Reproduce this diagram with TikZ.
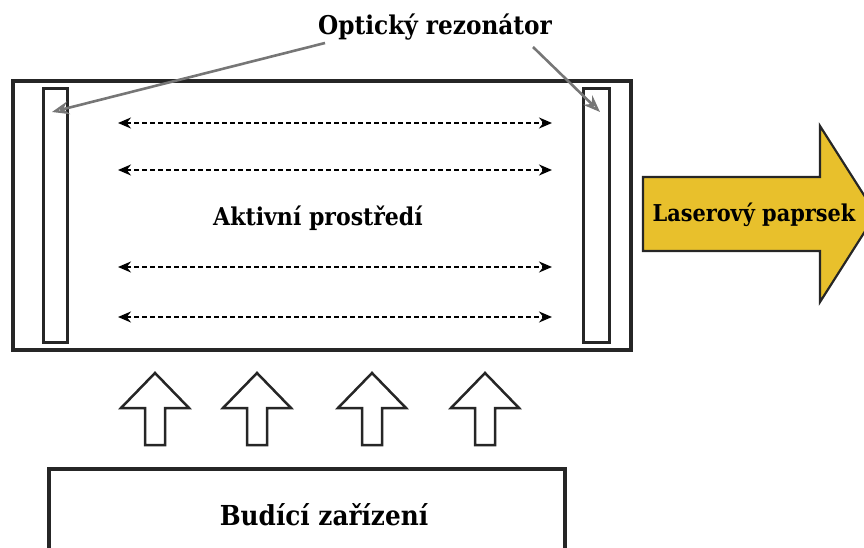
\documentclass[tikz,border=0pt]{standalone}
\usepackage{fontspec}
\setmainfont{DejaVu Serif Condensed}
\usetikzlibrary{arrows.meta}
\definecolor{laseryellow}{RGB}{232,192,44}
\definecolor{pointergray}{RGB}{118,118,118}
\tikzset{
  boxline/.style={draw=black!85, line width=3.5pt},
  mirror/.style={draw=black!85, line width=3pt},
  raydash/.style={draw=black, line width=1.8pt, dash pattern=on 5pt off 3pt, {Stealth[length=13pt,width=11pt]}-{Stealth[length=13pt,width=11pt]}},
  pointer/.style={draw=pointergray, line width=2.6pt, -{Stealth[length=17pt,width=13pt,open, line width=2.4pt]}},
  pumparrow/.style={draw=black!85, line width=2.5pt, fill=white, line join=miter},
  lbl/.style={font=\bfseries, inner sep=0pt, anchor=base}
}
\begin{document}
\begin{tikzpicture}[x=1pt,y=-1pt]
\useasboundingbox (0,0) rectangle (864,548);
\clip (0,0) rectangle (864,548);
% main box
\draw[boxline] (13,81) rectangle (631,350);
\node[inner sep=0pt, minimum width=618pt, minimum height=269pt] (medium) at (322,215.5) {};
% mirrors
\draw[mirror] (43,89) rectangle (67,342);
\draw[mirror] (583,89) rectangle (609,342);
\coordinate (mL) at (52,112);
\coordinate (mR) at (600,112);
% dashed rays
\foreach \yy [count=\i] in {123,170,267,317}{
  \coordinate (rl\i) at (118,\yy);
  \coordinate (rr\i) at (552,\yy);
  \draw[raydash] (rl\i) -- (rr\i);
}
% labels
\node[lbl, font=\bfseries\fontsize{25.8}{30}\selectfont] (rez) at (435,35) {Optický rezonátor};
\coordinate (pL) at (325,43);
\coordinate (pR) at (533,47);
\draw[pointer] (pL) -- (mL);
\draw[pointer] (pR) -- (mR);
\node[lbl, font=\bfseries\fontsize{24.5}{29}\selectfont] (act) at (318,225) {Aktivní prostředí};
% laser beam arrow
\draw[draw=black!85, line width=2.2pt, fill=laseryellow, line join=miter]
  (643,177) -- (820,177) -- (820,126) -- (876,214) -- (820,302) -- (820,251) -- (643,251) -- cycle;
\node[lbl, font=\bfseries\fontsize{23.2}{27}\selectfont] (laser) at (754,222) {Laserový paprsek};
% pump arrows
\foreach \cx [count=\i] in {155,257,372,485}{
  \draw[pumparrow] (\cx,373) -- (\cx+34,408) -- (\cx+10,408) -- (\cx+10,445) -- (\cx-10,445) -- (\cx-10,408) -- (\cx-34,408) -- cycle;
  \coordinate (pump\i) at (\cx,373);
}
% pump device box
\draw[boxline] (49,560) -- (49,469) -- (565,469) -- (565,560);
\node[lbl, font=\bfseries\fontsize{27.5}{32}\selectfont] (bud) at (324,525) {Budící zařízení};
\end{tikzpicture}
\end{document}
